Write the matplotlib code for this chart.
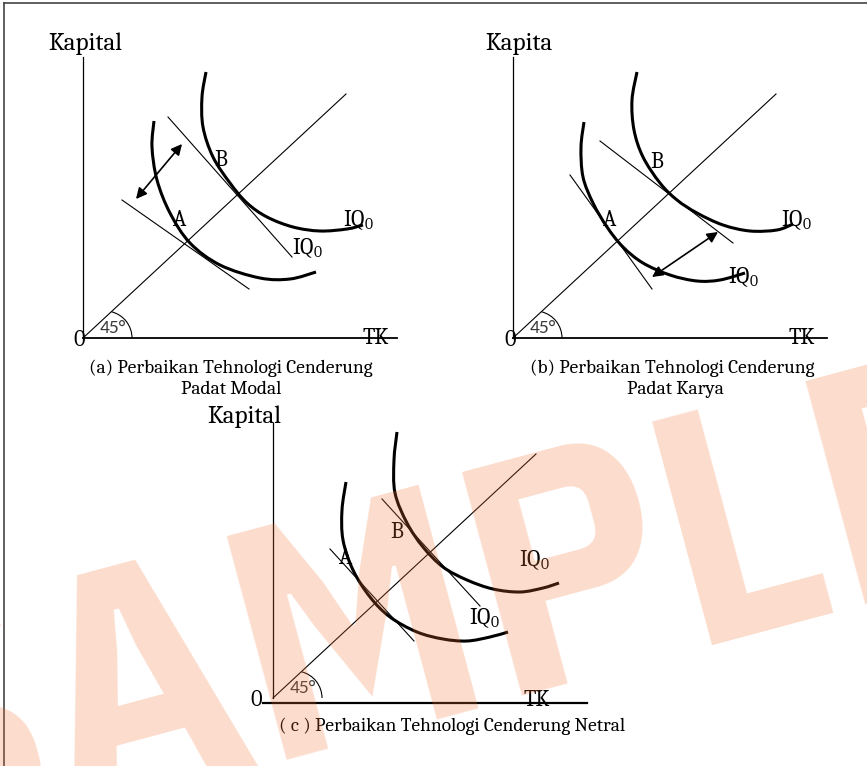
import numpy as np
import matplotlib
matplotlib.use("Agg")
import matplotlib.pyplot as plt
from matplotlib.path import Path
from matplotlib.patches import PathPatch, Arc

SERIF = "Caladea"
plt.rcParams["mathtext.fontset"] = "custom"
plt.rcParams["mathtext.rm"] = SERIF
plt.rcParams["mathtext.it"] = SERIF + ":italic"

W, H = 867, 766

# isoquant shapes, local coords (origin at the axis corner, y up)
a_iq_inner = [(71, 217), (69, 191), (74, 158), (87, 125), (107, 95), (137, 73), (177, 60), (207, 59), (233, 66)]
a_iq_outer = [(123, 266), (119, 241), (120, 211), (130, 181), (147, 155), (164, 135), (184, 121), (210, 111), (237, 107), (264, 109), (280, 113)]
a_tangent_a = [(39, 138), (166, 49)]
a_tangent_b = [(85, 221), (209, 81)]
a_shift = [(53, 139), (99, 194)]

b_iq_inner = [(71, 216), (68, 191), (70, 161), (80, 135), (94, 111), (110, 91), (130, 75), (157, 63), (184, 57), (207, 58), (232, 65)]
b_iq_outer = [(124, 266), (119, 238), (121, 208), (130, 181), (147, 155), (164, 138), (184, 125), (210, 113), (237, 107), (264, 108), (280, 114)]
b_tangent_a = [(57, 163), (139, 49)]
b_tangent_b = [(87, 197), (220, 95)]
b_shift = [(139, 61), (205, 106)]

c_iq_inner = [(73, 216), (69, 188), (70, 158), (80, 128), (97, 101), (117, 81), (144, 66), (170, 59), (194, 57), (217, 61), (235, 66)]
c_iq_outer = [(124, 266), (121, 238), (122, 205), (134, 175), (150, 151), (170, 131), (194, 118), (220, 109), (247, 106), (270, 110), (286, 115)]
c_tangent_a = [(57, 149), (141, 57)]
c_tangent_b = [(109, 199), (207, 92)]

ray_end = (263, 244)

captions_a = ["(a) Perbaikan Tehnologi Cenderung", "Padat Modal"]
captions_b = ["(b) Perbaikan Tehnologi Cenderung", "Padat Karya"]
captions_c = ["( c ) Perbaikan Tehnologi Cenderung Netral"]


def smooth_curve(ax, pts, lw=2.2):
    pts = np.asarray(pts, dtype=float)
    n = len(pts)
    verts = [pts[0]]
    codes = [Path.MOVETO]
    for i in range(n - 1):
        p0 = pts[max(i - 1, 0)]
        p1 = pts[i]
        p2 = pts[i + 1]
        p3 = pts[min(i + 2, n - 1)]
        verts += [p1 + (p2 - p0) / 6, p2 - (p3 - p1) / 6, p2]
        codes += [Path.CURVE4] * 3
    ax.add_patch(PathPatch(Path(verts, codes), fill=False, lw=lw, color="black", capstyle="butt"))


def label(ax, x, y, s, size=16):
    ax.text(x, y, s, fontsize=size, family=SERIF, ha="center", va="center")


def panel(origin, y_label, y_label_x, y_label_y, x_axis_from=0, x_axis_y=0, x_axis_lw=1.3, y_top=281):
    ox, oy = origin
    ax = fig.add_axes([0, 0, 1, 1])
    ax.set_xlim(-ox, W - ox)
    ax.set_ylim(oy - H, oy)
    ax.axis("off")
    ax.patch.set_alpha(0)
    ax.plot([0, 0], [0, y_top], color="black", lw=0.9)
    ax.plot([x_axis_from, 314], [x_axis_y, x_axis_y], color="black", lw=x_axis_lw)
    ax.plot([0, ray_end[0]], [0, ray_end[1]], color="black", lw=0.8)
    ax.add_patch(Arc((22, 0), 54, 54, theta1=0, theta2=76, lw=0.8, color="black"))
    ax.text(30, 10, "45°", fontsize=14, family="Carlito", color="#3c3c3c", ha="center", va="center")
    ax.text(y_label_x, y_label_y, y_label, fontsize=18, family=SERIF, ha="left", va="baseline")
    return ax


fig = plt.figure(figsize=(W / 100, H / 100), dpi=100)

# page frame
bg = fig.add_axes([0, 0, 1, 1])
bg.set_xlim(0, W)
bg.set_ylim(H, 0)
bg.axis("off")
bg.plot([4, W], [3, 3], color="#444444", lw=1.2)
bg.plot([4, 4], [3, H], color="#444444", lw=1.2)

arrow_style = dict(arrowstyle="<|-|>", color="black", lw=1.2, mutation_scale=16, shrinkA=0, shrinkB=0)

# (a)
ax = panel((83, 338), "Kapital", -35, 288)
smooth_curve(ax, a_iq_inner)
smooth_curve(ax, a_iq_outer)
for seg in (a_tangent_a, a_tangent_b):
    ax.plot(*zip(*seg), color="black", lw=0.8)
ax.annotate("", xy=a_shift[1], xytext=a_shift[0], arrowprops=arrow_style)
label(ax, 97, 118, "A")
label(ax, 138, 178, "B")
label(ax, 224, 90, r"IQ$_0$")
label(ax, 275, 118, r"IQ$_0$")
label(ax, -4, -2, "0")
label(ax, 293, -1, "TK")
ax.text(148, -35, captions_a[0], fontsize=14, family=SERIF, ha="center", va="baseline")
ax.text(148, -56, captions_a[1], fontsize=14, family=SERIF, ha="center", va="baseline")

# (b)
ax = panel((513, 338), "Kapita", -28, 288)
smooth_curve(ax, b_iq_inner)
smooth_curve(ax, b_iq_outer)
for seg in (b_tangent_a, b_tangent_b):
    ax.plot(*zip(*seg), color="black", lw=0.8)
ax.annotate("", xy=b_shift[1], xytext=b_shift[0], arrowprops=arrow_style)
label(ax, 97, 118, "A")
label(ax, 144, 176, "B")
label(ax, 283, 118, r"IQ$_0$")
label(ax, 230, 61, r"IQ$_0$")
label(ax, -3, -2, "0")
label(ax, 289, -1, "TK")
ax.text(159, -35, captions_b[0], fontsize=14, family=SERIF, ha="center", va="baseline")
ax.text(162, -56, captions_b[1], fontsize=14, family=SERIF, ha="center", va="baseline")

# (c)
ax = panel((273, 698), "Kapital", -66, 275, x_axis_from=-10, x_axis_y=-5, x_axis_lw=1.6, y_top=275)
smooth_curve(ax, c_iq_inner)
smooth_curve(ax, c_iq_outer)
for seg in (c_tangent_a, c_tangent_b):
    ax.plot(*zip(*seg), color="black", lw=0.8)
label(ax, 73, 140, "A")
label(ax, 124, 166, "B")
label(ax, 261, 138, r"IQ$_0$")
label(ax, 211, 80, r"IQ$_0$")
label(ax, -17, -2, "0")
label(ax, 264, -2, "TK")
ax.text(179, -33, captions_c[0], fontsize=14, family=SERIF, ha="center", va="baseline")

# watermark on top
wm = fig.add_axes([0, 0, 1, 1])
wm.set_xlim(0, W)
wm.set_ylim(H, 0)
wm.axis("off")
wm.patch.set_alpha(0)
wm.text(455, 712, "SAMPLE", fontsize=238, fontweight="bold",
        family=["IBM Plex Sans Condensed", "Liberation Sans"], color="#f37333", alpha=0.25,
        rotation=15, rotation_mode="anchor", ha="center", va="baseline", clip_on=False)

fig.savefig("out.png", dpi=100)
